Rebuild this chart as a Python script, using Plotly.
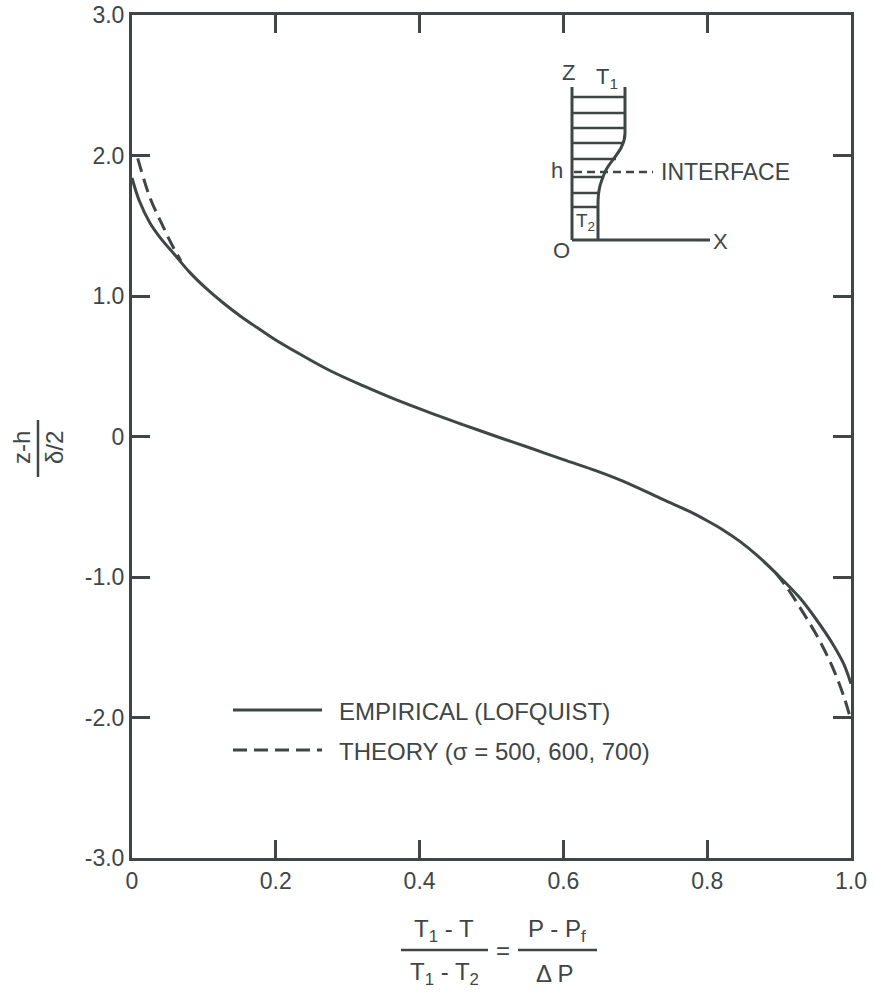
import plotly.graph_objects as go

# ---------------- data ----------------
emp_x = [0.0, 0.01, 0.025, 0.04, 0.06, 0.08, 0.104, 0.127, 0.15, 0.174, 0.196, 0.234,
         0.275, 0.322, 0.368, 0.414, 0.46, 0.507, 0.553, 0.6, 0.646, 0.693, 0.739, 0.776,
         0.8, 0.822, 0.845, 0.869, 0.901, 0.929, 0.95, 0.975, 0.99, 1.0]
emp_y = [1.84, 1.68, 1.52, 1.41, 1.29, 1.17, 1.05, 0.95, 0.86, 0.775, 0.70, 0.585,
         0.47, 0.36, 0.26, 0.17, 0.085, 0.0, -0.08, -0.165, -0.245, -0.34, -0.45, -0.535,
         -0.60, -0.665, -0.745, -0.845, -1.0, -1.15, -1.29, -1.48, -1.62, -1.76]

theory_top_x = [0.008, 0.025, 0.04, 0.055, 0.068]
theory_top_y = [1.98, 1.70, 1.53, 1.37, 1.25]
theory_bot_x = [0.895, 0.911, 0.933, 0.955, 0.975, 0.99, 1.0]
theory_bot_y = [-0.97, -1.075, -1.25, -1.44, -1.65, -1.85, -2.02]

x_tickvals = [0, 0.2, 0.4, 0.6, 0.8, 1.0]
x_ticktext = ["0", "0.2", "0.4", "0.6", "0.8", "1.0"]
y_tickvals = [3, 2, 1, 0, -1, -2, -3]
y_ticktext = ["3.0", "2.0", "1.0", "0", "-1.0", "-2.0", "-3.0"]

legend_labels = ["EMPIRICAL (LOFQUIST)", "THEORY (\u03c3 = 500, 600, 700)"]

# ---------------- style ----------------
INK = "#404646"
FONT = "Liberation Sans"
W, H = 874, 992
L, R, T, B = 132, 23, 15, 134
PW, PH = W - L - R, H - T - B


def px(xp):
    return (xp - L) / PW


def py(yp):
    return (H - B - yp) / PH


fig = go.Figure()

fig.add_trace(go.Scatter(x=emp_x, y=emp_y, mode="lines",
                         line=dict(color=INK, width=3, shape="spline", smoothing=1.0),
                         showlegend=False, hoverinfo="skip"))
theory_x = theory_top_x + [None] + theory_bot_x
theory_y = theory_top_y + [None] + theory_bot_y
fig.add_trace(go.Scatter(x=theory_x, y=theory_y, mode="lines",
                         line=dict(color=INK, width=3, dash="14px,7px", shape="spline", smoothing=1.0),
                         showlegend=False, hoverinfo="skip", connectgaps=False))

shapes = []
ann = []


def line(x0, y0, x1, y1, w=3, dash=None):
    d = dict(type="line", xref="paper", yref="paper", x0=px(x0), y0=py(y0), x1=px(x1), y1=py(y1),
             line=dict(color=INK, width=w))
    if dash:
        d["line"]["dash"] = dash
    shapes.append(d)


def text(s, x, y, size=24, xanchor="center", angle=0):
    ann.append(dict(text=s, x=px(x), y=py(y), xref="paper", yref="paper", showarrow=False,
                    xanchor=xanchor, yanchor="middle", textangle=angle,
                    font=dict(family=FONT, size=size, color=INK)))


# legend
line(233, 710, 322, 710, w=3)
line(233, 750, 322, 750, w=3, dash="14px,7px")
text(legend_labels[0], 337, 711, xanchor="left")
text(legend_labels[1], 337, 751, xanchor="left")

# x-axis title (fraction)
text("T<sub>1</sub> - T", 444, 930)
line(401, 950, 488, 950, w=2.5)
text("T<sub>1</sub> - T<sub>2</sub>", 444, 973)
text("=", 503, 950)
text("P - P<sub>f</sub>", 557, 930)
line(518, 950, 597, 950, w=2.5)
text("\u0394 P", 554, 973)

# y-axis title (rotated fraction)
text("z-h", 21, 448, angle=-90)
line(38, 420, 38, 477, w=2.5)
text("\u03b4/2", 54, 448, angle=-90)

# inset schematic
line(572, 87, 572, 240)
line(572, 240, 710, 240)
profile = "M {},{} L {},{} C {},{} {},{} {},{} S {},{} {},{} L {},{}".format(
    px(625), py(87), px(625), py(133),
    px(625), py(150), px(610), py(160), px(605), py(172),
    px(598), py(190), px(598), py(205), px(598), py(240))
shapes.append(dict(type="path", xref="paper", yref="paper", path=profile,
                   line=dict(color=INK, width=3)))
hatch_y = [97, 113, 128, 143, 159, 177, 193, 207]
hatch_r = [625, 625, 625, 623, 616, 604, 599, 598]
for hy, hr in zip(hatch_y, hatch_r):
    line(572, hy, hr, hy, w=2.5)
line(574, 172, 653, 172, w=2.5, dash="8px,5px")
text("Z", 568, 72, size=22)
text("T<sub>1</sub>", 607, 78, size=22)
text("h", 557, 171, size=22)
text("INTERFACE", 659, 172, size=23, xanchor="left")
text("T<sub>2</sub>", 585, 222, size=19)
text("O", 561, 250, size=22)
text("X", 720, 241, size=22)

axis_common = dict(showline=True, linewidth=3, linecolor=INK, mirror="ticks", ticks="inside",
                   ticklen=18, tickwidth=2.5, tickcolor=INK, showgrid=False, zeroline=False,
                   automargin=False,
                   tickfont=dict(family=FONT, size=23, color=INK))

fig.update_layout(
    width=W, height=H, margin=dict(l=L, r=R, t=T, b=B, autoexpand=False),
    paper_bgcolor="white", plot_bgcolor="white",
    xaxis=dict(range=[0, 1], tickvals=x_tickvals, ticktext=x_ticktext, **axis_common),
    yaxis=dict(range=[-3, 3], tickvals=y_tickvals, ticktext=y_ticktext, **axis_common),
    shapes=shapes, annotations=ann, showlegend=False,
)

fig.write_html("out.html")
